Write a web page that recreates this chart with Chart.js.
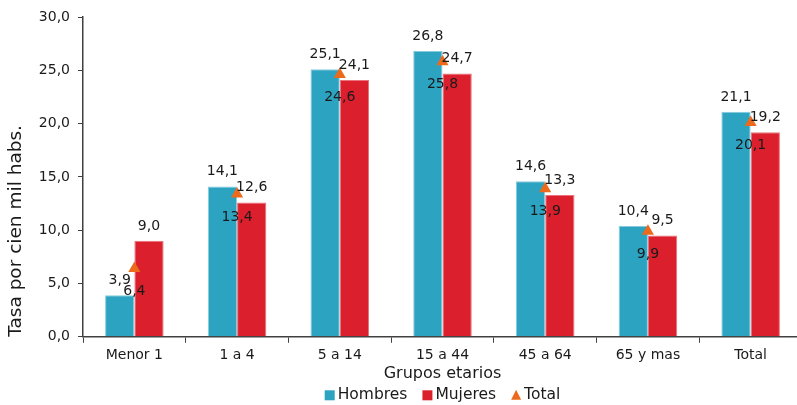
<!DOCTYPE html>
<html>
<head>
<meta charset="utf-8">
<script src="https://cdn.jsdelivr.net/npm/chart.js@4/dist/chart.umd.min.js"></script>
<style>
  html, body { margin: 0; padding: 0; background: #fff; overflow: hidden; }
  #wrap { width: 797px; height: 405px; overflow: hidden; }
</style>
</head>
<body>
<div id="wrap"><canvas id="c" width="809" height="405"></canvas></div>
<script>
// Tasa por cien mil habitantes, según grupo etario y sexo
const categories = ['Menor 1', '1 a 4', '5 a 14', '15 a 44', '45 a 64', '65 y mas', 'Total'];
const hombres = [3.9, 14.1, 25.1, 26.8, 14.6, 10.4, 21.1];
const mujeres = [9.0, 12.6, 24.1, 24.7, 13.3, 9.5, 19.2];
const total   = [6.4, 13.4, 24.6, 25.8, 13.9, 9.9, 20.1];
const yTicks  = [0, 5, 10, 15, 20, 25, 30];

const FONT = "'DejaVu Sans', Verdana, sans-serif";
const TEXT = '#1a1a1a';
const fmt = v => v.toFixed(1).replace('.', ',');

// Etiquetas de valor: sobre las barras y bajo los triángulos
const valueLabels = {
  id: 'valueLabels',
  afterDatasetsDraw(chart) {
    const ctx = chart.ctx;
    ctx.save();
    ctx.font = '14px ' + FONT;
    ctx.fillStyle = TEXT;
    ctx.textAlign = 'center';
    ctx.textBaseline = 'middle';
    chart.data.datasets.forEach((ds, i) => {
      const meta = chart.getDatasetMeta(i);
      meta.data.forEach((el, j) => {
        const txt = fmt(ds.data[j]);
        if (ds.type === 'line') {
          ctx.fillText(txt, el.x, el.y + 23);
        } else {
          ctx.fillText(txt, el.x, el.y - 15);
        }
      });
    });
    ctx.restore();
  }
};

// Leyenda centrada bajo el área del gráfico
const bottomLegend = {
  id: 'bottomLegend',
  afterDraw(chart) {
    const ctx = chart.ctx;
    const area = chart.chartArea;
    ctx.save();
    ctx.font = '15.5px ' + FONT;
    ctx.textBaseline = 'middle';
    ctx.textAlign = 'left';
    const items = chart.data.datasets.map(ds => ({
      text: ds.label,
      color: ds.type === 'line' ? ds.pointBackgroundColor : ds.backgroundColor,
      marker: ds.type === 'line' ? 'triangle' : 'rect',
      w: ctx.measureText(ds.label).width
    }));
    const mark = 10, gap = 3, spacing = 15;
    let width = 0;
    items.forEach((it, i) => { width += mark + gap + it.w + (i < items.length - 1 ? spacing : 0); });
    let x = (area.left + area.right) / 2 - width / 2;
    const y = area.bottom + 58.5;
    items.forEach(it => {
      ctx.fillStyle = it.color;
      if (it.marker === 'rect') {
        ctx.fillRect(x, y - 5, mark, mark);
      } else {
        ctx.beginPath();
        ctx.moveTo(x + mark / 2, y - 5.5);
        ctx.lineTo(x + mark, y + 4.5);
        ctx.lineTo(x, y + 4.5);
        ctx.closePath();
        ctx.fill();
      }
      x += mark + gap;
      ctx.fillStyle = TEXT;
      ctx.fillText(it.text, x, y);
      x += it.w + spacing;
    });
    ctx.restore();
  }
};

new Chart(document.getElementById('c'), {
  data: {
    labels: categories,
    datasets: [
      {
        type: 'bar', label: 'Hombres', data: hombres,
        backgroundColor: '#2ca3c1', borderColor: '#86cbdd', borderWidth: 1,
        order: 1, barPercentage: 1, categoryPercentage: 0.57
      },
      {
        type: 'bar', label: 'Mujeres', data: mujeres,
        backgroundColor: '#db1f2c', borderColor: '#e9727b', borderWidth: 1,
        order: 1, barPercentage: 1, categoryPercentage: 0.57
      },
      {
        type: 'line', label: 'Total', data: total,
        showLine: false, pointStyle: 'triangle', pointRadius: 7,
        pointBackgroundColor: '#ec6a1c', pointBorderColor: '#ec6a1c',
        backgroundColor: '#ec6a1c', borderColor: '#ec6a1c', borderWidth: 0,
        order: -1
      }
    ]
  },
  options: {
    responsive: false,
    animation: false,
    events: [],
    layout: { padding: { top: 17, left: 2, right: 0, bottom: 21.6 } },
    plugins: {
      tooltip: { enabled: false },
      legend: { display: false }
    },
    scales: {
      x: {
        offset: true,
        afterFit(scale) { scale.height = 46.6; },
        grid: { display: true, drawOnChartArea: false, drawTicks: true, tickLength: 6, color: '#404040', offset: true },
        border: { display: true, color: '#404040', width: 1.5 },
        ticks: { color: TEXT, font: { family: FONT, size: 14 }, padding: 4, maxRotation: 0 },
        title: { display: true, text: 'Grupos etarios', color: TEXT, font: { family: FONT, size: 16 }, padding: { top: 0, bottom: 0 } }
      },
      y: {
        min: 0, max: 30,
        afterBuildTicks(scale) { scale.ticks = yTicks.map(v => ({ value: v })); },
        afterFit(scale) { scale.width = 81; },
        grid: { display: true, drawOnChartArea: false, drawTicks: true, tickLength: 5, color: '#404040' },
        border: { display: true, color: '#404040', width: 1.5 },
        ticks: { color: TEXT, font: { family: FONT, size: 14 }, padding: 8, callback: v => fmt(v) },
        title: { display: true, text: 'Tasa por cien mil habs.', align: 'start', color: TEXT, font: { family: FONT, size: 18.5 }, padding: { top: 3, bottom: 4 } }
      }
    }
  },
  plugins: [valueLabels, bottomLegend]
});
</script>
</body>
</html>
